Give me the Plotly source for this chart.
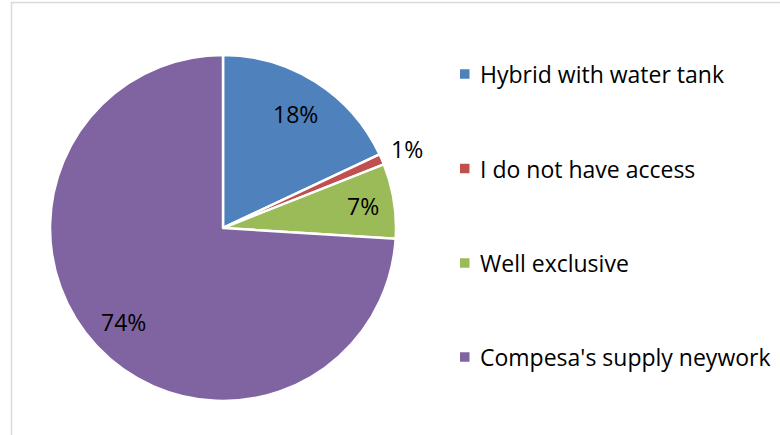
import math
import plotly.graph_objects as go

# Household water source shares (percent)
categories = ["Hybrid with water tank", "I do not have access", "Well exclusive", "Compesa's supply neywork"]
shares = [18, 1, 7, 74]
colors = ["#4F81BD", "#C0504D", "#9BBB59", "#8064A2"]

W, H = 780, 435
CX, CY, R = 223, 228, 171          # pie centre and radius in pixels
FONT = "Open Sans, Noto Sans, sans-serif"
TXT = 23
# radial position of each percentage label, as a fraction of the radius
label_radius = [0.79, 1.17, 0.83, 0.80]

def px(x):
    return x / W

def py(y):
    return 1 - y / H

fig = go.Figure(go.Pie(
    labels=categories,
    values=shares,
    sort=False,
    direction="clockwise",
    rotation=0,
    marker=dict(colors=colors, line=dict(color="white", width=2.5)),
    textinfo="none",
    hoverinfo="label+percent",
    showlegend=False,
    domain=dict(x=[px(CX - R - 2), px(CX + R + 2)], y=[py(CY + R + 2), py(CY - R - 2)]),
))

# Percentage labels placed along each slice's bisector
annotations = []
total = sum(shares)
cum = 0
for v, frac in zip(shares, label_radius):
    mid = (cum + v / 2) / total * 2 * math.pi
    cum += v
    x = CX + frac * R * math.sin(mid)
    y = CY - frac * R * math.cos(mid)
    annotations.append(dict(
        x=px(x), y=py(y), xref="paper", yref="paper",
        text=f"{round(v / total * 100)}%", showarrow=False,
        font=dict(family=FONT, size=TXT, color="black"),
        xanchor="center", yanchor="middle",
    ))

# Legend drawn as squares and labels down the right side
shapes = []
leg_y = [74, 168.5, 263, 357]
for name, col, ly in zip(categories, colors, leg_y):
    shapes.append(dict(
        type="rect", xref="paper", yref="paper",
        x0=px(460), x1=px(469.5), y0=py(ly + 4.75), y1=py(ly - 4.75),
        fillcolor=col, line=dict(width=0),
    ))
    annotations.append(dict(
        x=px(477.5), y=py(ly), xref="paper", yref="paper",
        text=name, showarrow=False,
        font=dict(family=FONT, size=TXT, color="black"),
        xanchor="left", yanchor="middle",
    ))

# Chart area frame (left and top edges visible)
shapes.append(dict(
    type="rect", xref="paper", yref="paper",
    x0=px(11.5), x1=px(W + 5), y0=py(H + 5), y1=py(2.5),
    line=dict(color="#D9D9D9", width=1.5), fillcolor="rgba(0,0,0,0)",
))

fig.update_layout(
    width=W, height=H,
    margin=dict(l=0, r=0, t=0, b=0),
    paper_bgcolor="white", plot_bgcolor="white",
    annotations=annotations, shapes=shapes,
)

fig.write_html("out.html")
